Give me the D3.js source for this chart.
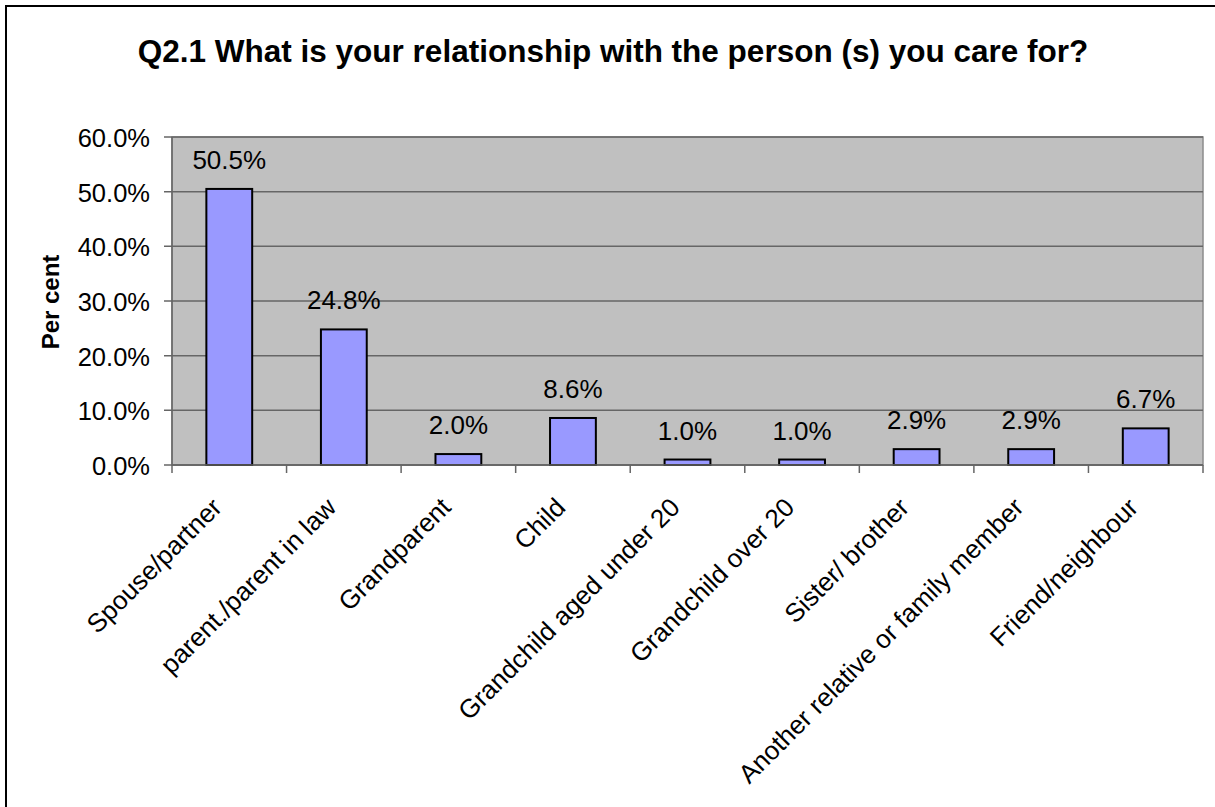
<!DOCTYPE html>
<html>
<head>
<meta charset="utf-8">
<script src="https://cdn.jsdelivr.net/npm/d3@7/dist/d3.min.js"></script>
<style>
  html, body { margin: 0; padding: 0; background: #ffffff; }
  svg { display: block; font-family: "Liberation Sans", Arial, sans-serif; }
</style>
</head>
<body>
<svg id="chart" width="1215" height="807"></svg>
<script>
// Survey answers: relationship to the person cared for
const categories = [
  "Spouse/partner",
  "parent./parent in law",
  "Grandparent",
  "Child",
  "Grandchild aged under 20",
  "Grandchild over 20",
  "Sister/ brother",
  "Another relative or family member",
  "Friend/neighbour"
];
const percents = [50.5, 24.8, 2.0, 8.6, 1.0, 1.0, 2.9, 2.9, 6.7];
const yTicks = [0, 10, 20, 30, 40, 50, 60];
const titleText = "Q2.1 What is your relationship with the person (s) you care for?";
const yAxisTitle = "Per cent";

const svg = d3.select("#chart");

// outer frame of the chart area
svg.append("rect")
  .attr("x", 6).attr("y", 6)
  .attr("width", 1230).attr("height", 830)
  .attr("fill", "#ffffff")
  .attr("stroke", "#000000")
  .attr("stroke-width", 2);

const plot = { left: 172, top: 137, right: 1203, bottom: 465 };

const x = d3.scaleBand()
  .domain(categories)
  .range([plot.left, plot.right])
  .paddingInner(0.6)
  .paddingOuter(0.3);

const y = d3.scaleLinear()
  .domain([0, 60])
  .range([plot.bottom, plot.top]);

// plot background
svg.append("rect")
  .attr("x", plot.left).attr("y", plot.top)
  .attr("width", plot.right - plot.left)
  .attr("height", plot.bottom - plot.top)
  .attr("fill", "#c0c0c0")
  .attr("stroke", "#8c8c8c")
  .attr("stroke-width", 1.5);

// horizontal gridlines with ticks extending left of the axis
svg.append("g")
  .selectAll("line")
  .data(yTicks)
  .join("line")
  .attr("x1", plot.left - 8)
  .attr("x2", plot.right)
  .attr("y1", d => y(d))
  .attr("y2", d => y(d))
  .attr("stroke", "#666666")
  .attr("stroke-width", 1.5);

// y tick labels
svg.append("g")
  .selectAll("text")
  .data(yTicks)
  .join("text")
  .attr("x", 150)
  .attr("y", d => y(d) + 10)
  .attr("text-anchor", "end")
  .attr("font-size", 25.5)
  .attr("fill", "#000")
  .text(d => d3.format(".1f")(d) + "%");

// y axis line
svg.append("line")
  .attr("x1", plot.left).attr("x2", plot.left)
  .attr("y1", plot.top).attr("y2", plot.bottom)
  .attr("stroke", "#666666").attr("stroke-width", 1.5);

// category boundary ticks under the x axis
const step = x.step();
const tickXs = categories.map((c, i) => plot.left + i * step).concat([plot.right]);
svg.append("g")
  .selectAll("line")
  .data(tickXs)
  .join("line")
  .attr("x1", d => d).attr("x2", d => d)
  .attr("y1", plot.bottom).attr("y2", plot.bottom + 8)
  .attr("stroke", "#666666").attr("stroke-width", 1.5);

// bars
svg.append("g")
  .selectAll("rect")
  .data(percents)
  .join("rect")
  .attr("x", (d, i) => x(categories[i]))
  .attr("y", d => y(d))
  .attr("width", x.bandwidth())
  .attr("height", d => y(0) - y(d))
  .attr("fill", "#9999ff")
  .attr("stroke", "#000000")
  .attr("stroke-width", 2);

// x axis line
svg.append("line")
  .attr("x1", plot.left).attr("x2", plot.right)
  .attr("y1", plot.bottom).attr("y2", plot.bottom)
  .attr("stroke", "#666666").attr("stroke-width", 1.5);

// value labels above bars
svg.append("g")
  .selectAll("text")
  .data(percents)
  .join("text")
  .attr("x", (d, i) => x(categories[i]) + x.bandwidth() / 2)
  .attr("y", d => y(d) - 20)
  .attr("text-anchor", "middle")
  .attr("font-size", 26)
  .attr("fill", "#000")
  .text(d => d3.format(".1f")(d) + "%");

// rotated category labels
svg.append("g")
  .selectAll("text")
  .data(categories)
  .join("text")
  .attr("transform", d => `translate(${x(d) + x.bandwidth() / 2 - 6},${plot.bottom + 44}) rotate(-45)`)
  .attr("text-anchor", "end")
  .attr("font-size", 26)
  .attr("fill", "#000")
  .text(d => d);

// y axis title
svg.append("text")
  .attr("transform", "translate(59,302) rotate(-90)")
  .attr("text-anchor", "middle")
  .attr("font-size", 24)
  .attr("font-weight", "bold")
  .attr("fill", "#000")
  .text(yAxisTitle);

// chart title
svg.append("text")
  .attr("x", 613)
  .attr("y", 62)
  .attr("text-anchor", "middle")
  .attr("font-size", 31.5)
  .attr("font-weight", "bold")
  .attr("fill", "#000")
  .text(titleText);
</script>
</body>
</html>
